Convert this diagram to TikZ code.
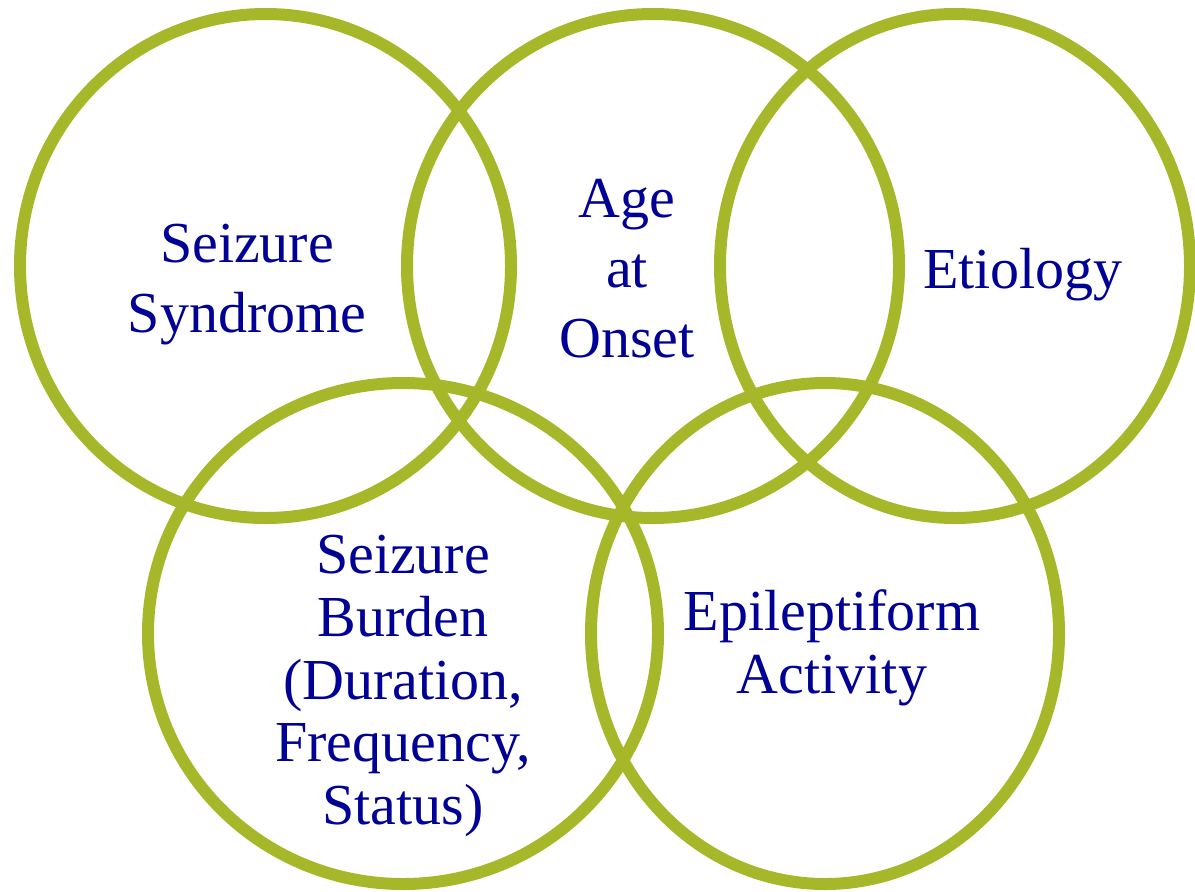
\documentclass[tikz,border=0pt]{standalone}
\usepackage{fontspec}
\setmainfont{Liberation Serif}
\usepackage{xcolor}
\definecolor{ringgreen}{RGB}{166,184,41}
\definecolor{labelblue}{RGB}{0,0,150}

\begin{document}
\begin{tikzpicture}[
  ring/.style={draw=ringgreen, line width=0.12cm},
  lbl/.style={text=labelblue, align=center, font=\fontsize{16.5}{19.9}\selectfont},
  lblb/.style={lbl, font=\fontsize{16.5}{17.9}\selectfont}
]
  \useasboundingbox (0,0) rectangle (11.95,8.91);

  % Define centres of the rings
  \coordinate (S) at (2.655,6.25); % syndrome
  \coordinate (A) at (6.53,6.25);  % age at onset
  \coordinate (E) at (9.55,6.25);  % etiology
  \coordinate (B) at (4.03,2.575); % burden
  \coordinate (P) at (8.25,2.575); % epileptiform activity

  % Draw the rings
  \draw[ring] (S) ellipse (2.455cm and 2.52cm);
  \draw[ring] (A) ellipse (2.46cm and 2.52cm);
  \draw[ring] (E) ellipse (2.35cm and 2.52cm);
  \draw[ring] (B) ellipse (2.55cm and 2.505cm);
  \draw[ring] (P) ellipse (2.34cm and 2.505cm);

  % Labels
  \node[lbl] (syn) at (2.47,6.065) {Seizure\\Syndrome};
  \node[lbl] (age) at (6.27,6.22) {Age\\at\\Onset};
  \node[lbl] (eti) at (10.23,6.16) {Etiology};
  \node[lblb] (bur) at (4.03,2.05) {Seizure\\Burden\\(Duration,\\Frequency,\\Status)};
  \node[lblb] (epi) at (8.32,2.43) {Epileptiform\\Activity};
\end{tikzpicture}
\end{document}
